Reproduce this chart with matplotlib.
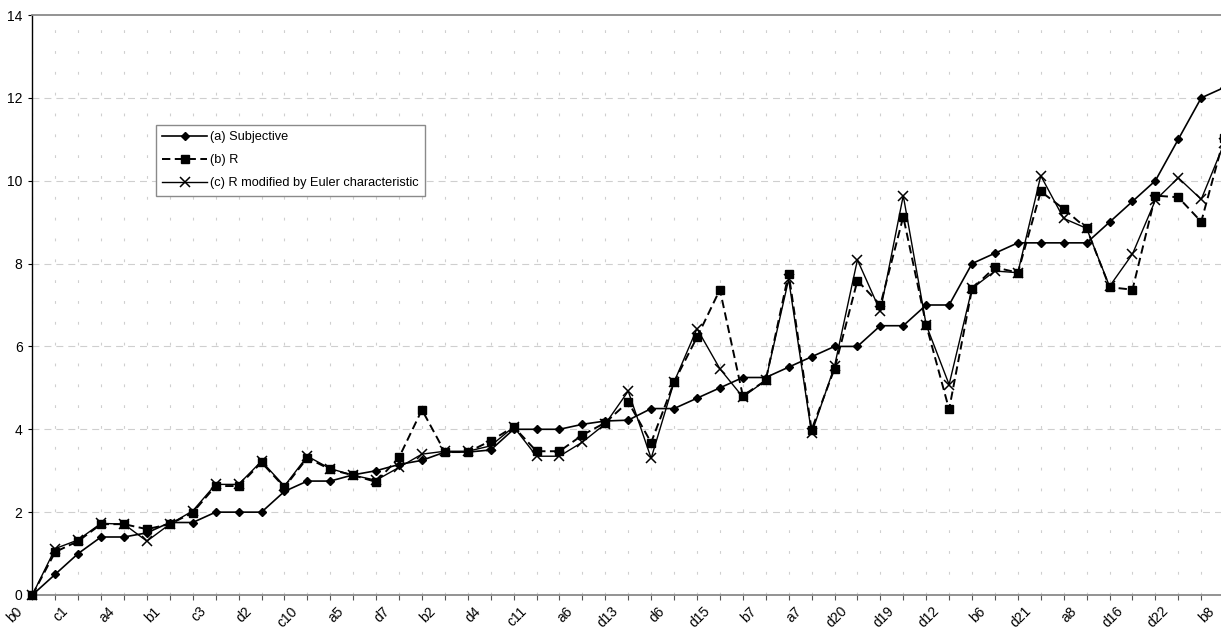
import matplotlib
matplotlib.use('Agg')
import matplotlib.pyplot as plt
import matplotlib.transforms as mtransforms
from matplotlib.lines import Line2D

plt.rcParams['font.family'] = ['Liberation Sans', 'DejaVu Sans']
plt.rcParams['lines.scale_dashes'] = False

# ---------------- data ----------------
label_names = ['b0', 'c1', 'a4', 'b1', 'c3', 'd2', 'c10', 'a5', 'd7', 'b2', 'd4', 'c11',
               'a6', 'd13', 'd6', 'd15', 'b7', 'a7', 'd20', 'd19', 'd12', 'b6', 'd21',
               'a8', 'd16', 'd22', 'b8']

subjective = [0, 0.5, 1.0, 1.4, 1.4, 1.5, 1.75, 1.75, 2.0, 2.0, 2.0, 2.5, 2.75, 2.75,
              2.9, 3.0, 3.15, 3.25, 3.45, 3.45, 3.5, 4.0, 4.0, 4.0, 4.12, 4.2, 4.22,
              4.5, 4.5, 4.75, 5.0, 5.25, 5.25, 5.5, 5.75, 6.0, 6.0, 6.5, 6.5, 7.0, 7.0,
              8.0, 8.25, 8.5, 8.5, 8.5, 8.5, 9.0, 9.5, 10.0, 11.0, 12.0, 12.25]

r_values = [0, 1.04, 1.3, 1.71, 1.71, 1.59, 1.71, 1.99, 2.63, 2.63, 3.2, 2.6, 3.31, 3.03,
            2.89, 2.73, 3.32, 4.47, 3.45, 3.45, 3.72, 4.06, 3.47, 3.47, 3.86, 4.16, 4.66,
            3.68, 5.14, 6.22, 7.37, 4.81, 5.18, 7.76, 3.99, 5.46, 7.59, 7.0, 9.13, 6.52,
            4.48, 7.39, 7.91, 7.78, 9.74, 9.32, 8.85, 7.43, 7.37, 9.64, 9.6, 9.01, 11.04]

r_euler = [0, 1.12, 1.33, 1.73, 1.71, 1.3, 1.71, 2.03, 2.67, 2.67, 3.23, 2.63, 3.35, 3.05,
           2.89, 2.77, 3.08, 3.4, 3.47, 3.47, 3.6, 4.06, 3.35, 3.35, 3.69, 4.13, 4.92,
           3.3, 5.14, 6.43, 5.46, 4.78, 5.18, 7.62, 3.9, 5.52, 8.09, 6.85, 9.64, 6.52,
           5.08, 7.4, 7.82, 7.78, 10.12, 9.09, 8.85, 7.45, 8.23, 9.53, 10.07, 9.55, 10.9]

series_names = ['(a) Subjective', '(b) R', '(c) R modified by Euler characteristic']
y_ticks = [0, 2, 4, 6, 8, 10, 12, 14]

# ---------------- layout ----------------
W, H = 1221, 631
fig = plt.figure(figsize=(W / 100, H / 100), dpi=100)
x0_px, step_px = 32.3, 22.92
xmax = 52.3
ax = fig.add_axes([x0_px / W, 1 - 595 / H, xmax * step_px / W, 580 / H])

n = len(subjective)
xs = list(range(n))

# grid
for i in xs:
    ax.axvline(i, color='#cfcfcf', lw=0.8, dashes=(2.0, 13.0), zorder=0)
for yv in y_ticks[1:-1]:
    ax.axhline(yv, color='#cfcfcf', lw=0.8, dashes=(5.0, 3.6), zorder=0)

ax.plot(xs, subjective, color='black', lw=1.2, marker='D', ms=4.3, zorder=3, clip_on=False)
ax.plot(xs, r_values, color='black', lw=1.4, dashes=(6.0, 3.2), marker='s', ms=5.8,
        zorder=4, clip_on=False)
ax.plot(xs, r_euler, color='black', lw=1.0, marker='x', ms=6.5, mew=1.1, zorder=5,
        clip_on=False)

ax.set_xlim(0, xmax)
ax.set_ylim(0, 14)

# spines
ax.spines['right'].set_visible(False)
ax.spines['left'].set_color('black')
ax.spines['left'].set_linewidth(1.0)
ax.spines['bottom'].set_color('#8a8a8a')
ax.spines['bottom'].set_linewidth(1.3)
ax.spines['top'].set_color('#8a8a8a')
ax.spines['top'].set_linewidth(1.3)

# ticks
ax.set_yticks(y_ticks)
ax.set_yticklabels([str(v) for v in y_ticks])
ax.tick_params(axis='y', direction='out', length=3, width=0.8, pad=4, labelsize=10,
               colors='black')
ax.set_xticks(xs[::2])
ax.set_xticklabels(label_names, rotation=45, ha='right', va='top')
ax.set_xticks(xs, minor=True)
ax.tick_params(axis='x', which='both', direction='out', length=3.5, width=0.8,
               color='#555555', pad=3, labelsize=10)
offset = mtransforms.ScaledTranslation(-7 / 100, 0, fig.dpi_scale_trans)
for lab in ax.get_xticklabels():
    lab.set_transform(lab.get_transform() + offset)

# legend
handles = [
    Line2D([], [], color='black', lw=1.2, marker='D', ms=4.3),
    Line2D([], [], color='black', lw=1.4, dashes=(6.0, 3.2), marker='s', ms=5.8),
    Line2D([], [], color='black', lw=1.0, marker='x', ms=6.5, mew=1.1),
]
leg = ax.legend(handles, series_names, loc='upper left',
                bbox_to_anchor=(156 / W, 1 - 125 / H), bbox_transform=fig.transFigure,
                borderaxespad=0, fancybox=False, framealpha=1, edgecolor='#8a8a8a',
                fontsize=9.2, handlelength=3.5, handletextpad=0.2, borderpad=0.5,
                labelspacing=0.85, numpoints=1)
leg.get_frame().set_linewidth(1.0)

fig.savefig('out.png', dpi=100)
